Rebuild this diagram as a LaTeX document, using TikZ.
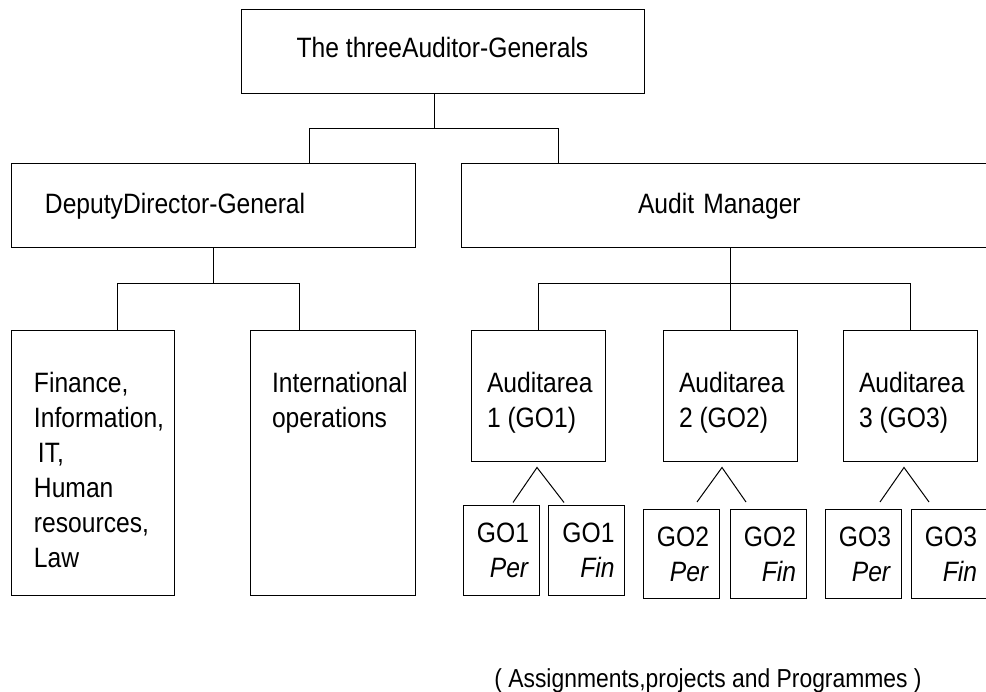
\documentclass[tikz,border=0pt]{standalone}
\usepackage{fontspec}
\setmainfont{Liberation Sans}[FakeStretch=0.88]
\usetikzlibrary{positioning}

\begin{document}
\begin{tikzpicture}[x=1pt,y=-1pt,line width=1pt,
    box/.style={draw,rectangle,inner sep=0pt},
    big/.style={font=\fontsize{28}{35}\selectfont},
    boxtext/.style={big,anchor=north west,align=left,inner sep=0pt},
    gobox/.style={box,big,minimum width=76pt,minimum height=89pt,
                  text width=56pt,inner xsep=10pt,align=right}]

  \useasboundingbox (0,0) rectangle (986,692);

% top and second row
  \node[box,big,minimum width=403pt,minimum height=84pt,text depth=10pt] (agen) at (442.5,52) {The threeAuditor-Generals};
  \node[box,big,minimum width=404pt,minimum height=84pt,text width=336pt,inner xsep=34pt,align=left] (ddg) at (213,206) {DeputyDirector-General};
  \node[box,big,minimum width=538pt,minimum height=84pt,text width=184pt,inner xsep=177pt,align=left] (mgr) at (730,206) {Audit Manager};

% third row, left
  \node[box,minimum width=163pt,minimum height=264pt] (finance) at (92.5,463) {};
  \node[boxtext] (finance-t) at ([xshift=23pt,yshift=-41pt]finance.north west) {Finance,\\Information,\\\hspace*{4pt}IT,\\Human\\resources,\\Law};
  \node[box,minimum width=165pt,minimum height=264pt] (intl) at (332.5,463) {};
  \node[boxtext] (intl-t) at ([xshift=22pt,yshift=-41pt]intl.north west) {International\\operations};

% third row, audit areas
  \foreach \n/\x in {1/538,2/730,3/910} {
    \node[box,minimum width=134pt,minimum height=131pt] (area\n) at (\x,396.5) {};
    \node[boxtext] (area\n-t) at ([xshift=16pt,yshift=-41pt]area\n.north west) {Auditarea\\\n\ (GO\n)};
  }

% bottom row
  \foreach \n/\xp/\xf/\y in {1/501/586.5/550.5, 2/681/768/554, 3/863/949/554} {
    \node[gobox] (gper\n) at (\xp,\y) {GO\n\\\textit{Per}};
    \node[gobox] (gfin\n) at (\xf,\y) {GO\n\\\textit{Fin}};
  }

% connectors
  \draw ([xshift=-8.5pt]agen.south) -- ++(0,34) coordinate (jtop);
  \draw ([xshift=96pt]ddg.north) |- (jtop) -| ([xshift=-172pt]mgr.north);
  \draw (ddg.south) -- ++(0,35) coordinate (jdep);
  \draw ([xshift=24.5pt]finance.north) |- (jdep) -| ([xshift=-33.5pt]intl.north);
  \draw (mgr.south) -- ++(0,35) coordinate (jmgr);
  \draw (area1.north) |- (jmgr) -| (area3.north);
  \draw (area2.north) -- (jmgr);

% forks under the audit areas
  \foreach \n/\a/\l/\r/\t in {1/-1/12/-22.5/3, 2/-8/16/-22/7, 3/-6/17/-20/7}
    \draw ([xshift=\l pt,yshift=\t pt]gper\n.north) -- ([xshift=\a pt,yshift=-5pt]area\n.south)
          -- ([xshift=\r pt,yshift=\t pt]gfin\n.north);

% note
  \node[font=\fontsize{26}{30}\selectfont,anchor=base] (note) at (708,687) {( Assignments,projects and Programmes )};

\end{tikzpicture}
\end{document}
